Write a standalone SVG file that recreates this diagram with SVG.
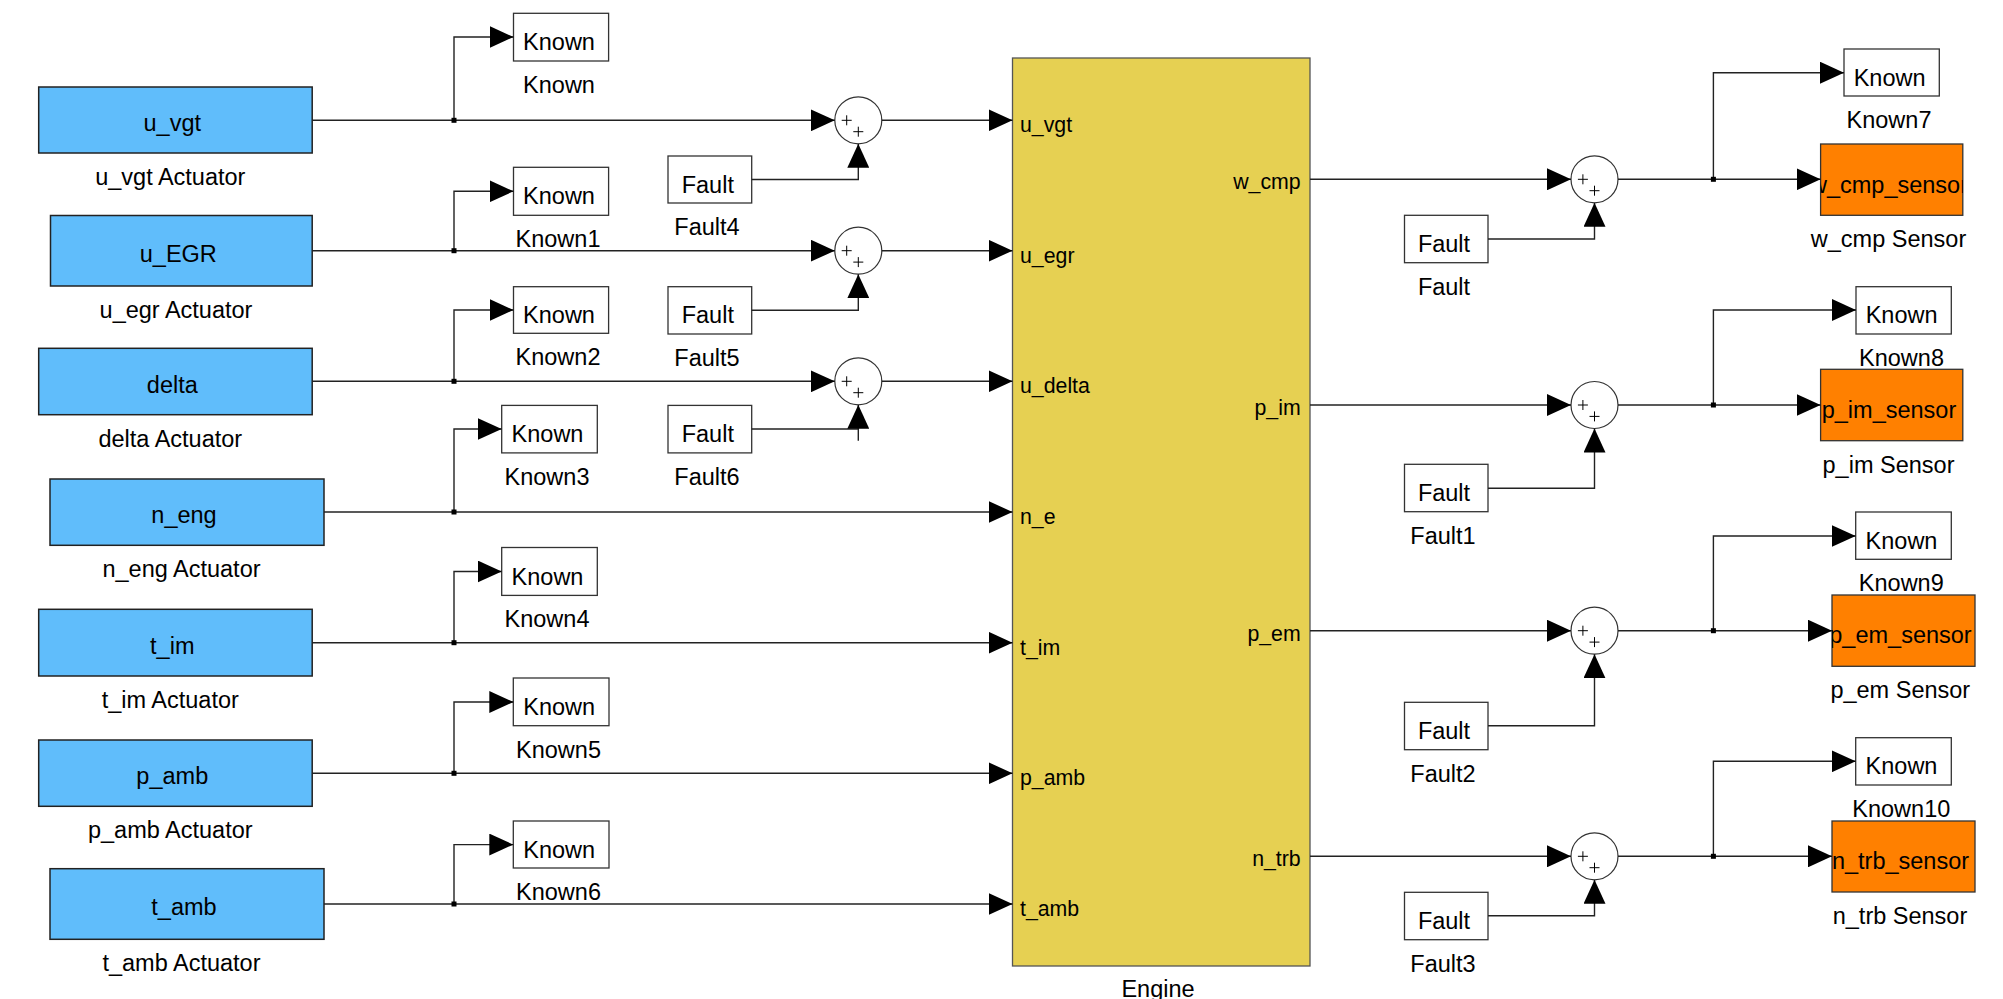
<svg xmlns="http://www.w3.org/2000/svg" width="2003" height="999" viewBox="0 0 2003 999">
<style>
text{font-family:"Liberation Sans",Arial,Helvetica,sans-serif;fill:#000}
.t{font-size:23.5px;text-anchor:middle}
.pl{font-size:21.3px;text-anchor:start}
.pr{font-size:21.3px;text-anchor:end}
.act{fill:#60BDFB;stroke:#222;stroke-width:1.5}
.blk{fill:#fff;stroke:#333;stroke-width:1.3}
.sen{fill:#FF8000;stroke:#333;stroke-width:1.3}
.eng{fill:#E6D052;stroke:#555;stroke-width:1.3}
.sum{fill:#fff;stroke:#333;stroke-width:1.2}
.pls{stroke:#000;stroke-width:1;fill:none}
.w{fill:none;stroke:#222;stroke-width:1.4}
.a{marker-end:url(#ah)}
.dot{fill:#000}
</style>
<defs>
<marker id="ah" markerUnits="userSpaceOnUse" markerWidth="24" markerHeight="22" refX="24" refY="11" orient="auto"><path d="M0,0 L24,11 L0,22 Z" fill="#000"/></marker>
<clipPath id="c0"><rect x="1820.6" y="144" width="142.2" height="71.3"/></clipPath>
<clipPath id="c1"><rect x="1820.6" y="369.3" width="142.2" height="71.4"/></clipPath>
<clipPath id="c2"><rect x="1832" y="595" width="143" height="71.3"/></clipPath>
<clipPath id="c3"><rect x="1832" y="821" width="143" height="71"/></clipPath>
</defs>

<!-- Actuators -->
<g id="act_u_vgt"><rect class="act" x="38.7" y="87" width="273.5" height="66"/><text class="t" x="172.3" y="131.3">u_vgt</text><text class="t" x="170.3" y="185.3">u_vgt Actuator</text></g>
<g id="act_u_egr"><rect class="act" x="50.5" y="215.5" width="261.7" height="70.5"/><text class="t" x="178.3" y="261.5">u_EGR</text><text class="t" x="176" y="318">u_egr Actuator</text></g>
<g id="act_delta"><rect class="act" x="38.7" y="348.3" width="273.5" height="66.4"/><text class="t" x="172.3" y="392.5">delta</text><text class="t" x="170.3" y="446.7">delta Actuator</text></g>
<g id="act_n_eng"><rect class="act" x="50" y="479" width="274" height="66.3"/><text class="t" x="184" y="523">n_eng</text><text class="t" x="181.5" y="577.3">n_eng Actuator</text></g>
<g id="act_t_im"><rect class="act" x="38.7" y="609.3" width="273.5" height="66.7"/><text class="t" x="172.3" y="653.7">t_im</text><text class="t" x="170.3" y="708">t_im Actuator</text></g>
<g id="act_p_amb"><rect class="act" x="38.7" y="740" width="273.5" height="66.3"/><text class="t" x="172.3" y="784.2">p_amb</text><text class="t" x="170.3" y="838.3">p_amb Actuator</text></g>
<g id="act_t_amb"><rect class="act" x="50" y="868.7" width="274" height="70.6"/><text class="t" x="184" y="915">t_amb</text><text class="t" x="181.5" y="971.3">t_amb Actuator</text></g>

<!-- Known (left) -->
<g id="known"><rect class="blk" x="513.5" y="13.3" width="95.1" height="47.7"/><text class="t" x="559" y="50">Known</text><text class="t" x="559" y="93">Known</text></g>
<g id="known1"><rect class="blk" x="513.5" y="167.3" width="95.1" height="48"/><text class="t" x="559" y="204.3">Known</text><text class="t" x="558" y="247.3">Known1</text></g>
<g id="known2"><rect class="blk" x="513.5" y="286.7" width="95.1" height="46.6"/><text class="t" x="559" y="323">Known</text><text class="t" x="558" y="365.3">Known2</text></g>
<g id="known3"><rect class="blk" x="501.7" y="405.4" width="95.6" height="47.5"/><text class="t" x="547.5" y="442">Known</text><text class="t" x="547" y="485">Known3</text></g>
<g id="known4"><rect class="blk" x="501.7" y="547.5" width="95.6" height="47.9"/><text class="t" x="547.5" y="584.5">Known</text><text class="t" x="547" y="627.4">Known4</text></g>
<g id="known5"><rect class="blk" x="513.3" y="678" width="95.7" height="47.7"/><text class="t" x="559.2" y="715">Known</text><text class="t" x="558.5" y="757.7">Known5</text></g>
<g id="known6"><rect class="blk" x="513.3" y="821" width="95.7" height="47"/><text class="t" x="559.2" y="857.5">Known</text><text class="t" x="558.5" y="900">Known6</text></g>

<!-- Faults (left) -->
<g id="fault4"><rect class="blk" x="668" y="156" width="83.7" height="47"/><text class="t" x="707.8" y="192.5">Fault</text><text class="t" x="707" y="235">Fault4</text></g>
<g id="fault5"><rect class="blk" x="668" y="286.7" width="83.7" height="47.3"/><text class="t" x="707.8" y="323.3">Fault</text><text class="t" x="707" y="366">Fault5</text></g>
<g id="fault6"><rect class="blk" x="668" y="405.4" width="83.7" height="47.5"/><text class="t" x="707.8" y="442.1">Fault</text><text class="t" x="707" y="485">Fault6</text></g>

<!-- Sums (left) -->
<g id="sum1"><circle class="sum" cx="858.3" cy="120.3" r="23.5"/><path class="pls" d="M841.7,120.3h10M846.7,115.3v10M853.3,131.7h10M858.3,126.7v10"/></g>
<g id="sum2"><circle class="sum" cx="858.3" cy="250.7" r="23.5"/><path class="pls" d="M841.7,250.7h10M846.7,245.7v10M853.3,262.1h10M858.3,257.1v10"/></g>
<g id="sum3"><circle class="sum" cx="858.3" cy="381.3" r="23.5"/><path class="pls" d="M841.7,381.3h10M846.7,376.3v10M853.3,392.7h10M858.3,387.7v10"/></g>

<!-- Engine -->
<g id="engine"><rect class="eng" x="1012.5" y="58" width="297.5" height="908"/>
<text class="pl" x="1020" y="132.3">u_vgt</text>
<text class="pl" x="1020" y="262.7">u_egr</text>
<text class="pl" x="1020" y="393.3">u_delta</text>
<text class="pl" x="1020" y="524">n_e</text>
<text class="pl" x="1020" y="654.7">t_im</text>
<text class="pl" x="1020" y="785.3">p_amb</text>
<text class="pl" x="1020" y="916">t_amb</text>
<text class="pr" x="1300.7" y="189.3">w_cmp</text>
<text class="pr" x="1300.7" y="415">p_im</text>
<text class="pr" x="1300.7" y="640.7">p_em</text>
<text class="pr" x="1300.7" y="866.3">n_trb</text>
<text class="t" x="1158" y="997">Engine</text></g>

<!-- Faults (right) -->
<g id="fault"><rect class="blk" x="1404.5" y="215.3" width="83.5" height="47.4"/><text class="t" x="1444" y="252">Fault</text><text class="t" x="1444" y="294.7">Fault</text></g>
<g id="fault1"><rect class="blk" x="1404.5" y="464.3" width="83.5" height="47.4"/><text class="t" x="1444" y="501">Fault</text><text class="t" x="1443" y="543.7">Fault1</text></g>
<g id="fault2"><rect class="blk" x="1404.5" y="702.3" width="83.5" height="47.4"/><text class="t" x="1444" y="739">Fault</text><text class="t" x="1443" y="781.7">Fault2</text></g>
<g id="fault3"><rect class="blk" x="1404.5" y="892.3" width="83.5" height="47.4"/><text class="t" x="1444" y="929">Fault</text><text class="t" x="1443" y="971.7">Fault3</text></g>

<!-- Sums (right) -->
<g id="sum4"><circle class="sum" cx="1594.5" cy="179.3" r="23.5"/><path class="pls" d="M1577.9,179.3h10M1582.9,174.3v10M1589.5,190.7h10M1594.5,185.7v10"/></g>
<g id="sum5"><circle class="sum" cx="1594.5" cy="405" r="23.5"/><path class="pls" d="M1577.9,405h10M1582.9,400v10M1589.5,416.4h10M1594.5,411.4v10"/></g>
<g id="sum6"><circle class="sum" cx="1594.5" cy="630.7" r="23.5"/><path class="pls" d="M1577.9,630.7h10M1582.9,625.7v10M1589.5,642.1h10M1594.5,637.1v10"/></g>
<g id="sum7"><circle class="sum" cx="1594.5" cy="856.3" r="23.5"/><path class="pls" d="M1577.9,856.3h10M1582.9,851.3v10M1589.5,867.7h10M1594.5,862.7v10"/></g>

<!-- Known (right) -->
<g id="known7"><rect class="blk" x="1844" y="49" width="95.3" height="47"/><text class="t" x="1889.6" y="85.5">Known</text><text class="t" x="1889" y="128">Known7</text></g>
<g id="known8"><rect class="blk" x="1856" y="286.7" width="95.3" height="47.3"/><text class="t" x="1901.6" y="323.3">Known</text><text class="t" x="1901.5" y="366">Known8</text></g>
<g id="known9"><rect class="blk" x="1855.7" y="512" width="95.6" height="47.3"/><text class="t" x="1901.5" y="548.6">Known</text><text class="t" x="1901.3" y="591.3">Known9</text></g>
<g id="known10"><rect class="blk" x="1855.7" y="737.7" width="95.6" height="47.3"/><text class="t" x="1901.5" y="774.3">Known</text><text class="t" x="1901.3" y="817">Known10</text></g>

<!-- Sensors -->
<g id="w_cmp_sensor"><rect class="sen" x="1820.6" y="144" width="142.2" height="71.3"/><text class="t" x="1889" y="192.5" clip-path="url(#c0)">w_cmp_sensor</text><text class="t" x="1888.5" y="247.3">w_cmp Sensor</text></g>
<g id="p_im_sensor"><rect class="sen" x="1820.6" y="369.3" width="142.2" height="71.4"/><text class="t" x="1889" y="417.5" clip-path="url(#c1)">p_im_sensor</text><text class="t" x="1888.5" y="472.7">p_im Sensor</text></g>
<g id="p_em_sensor"><rect class="sen" x="1832" y="595" width="143" height="71.3"/><text class="t" x="1900.5" y="643" clip-path="url(#c2)">p_em_sensor</text><text class="t" x="1900.3" y="698.3">p_em Sensor</text></g>
<g id="n_trb_sensor"><rect class="sen" x="1832" y="821" width="143" height="71"/><text class="t" x="1900.5" y="869" clip-path="url(#c3)">n_trb_sensor</text><text class="t" x="1900" y="924">n_trb Sensor</text></g>

<!-- Connectors -->
<g id="connectors">
<path class="w a" d="M312.2,120.3 H834.8"/>
<path class="w a" d="M454,120.3 V37 H513.5"/>
<path class="w a" d="M312.2,250.7 H834.8"/>
<path class="w a" d="M454,250.7 V191.3 H513.5"/>
<path class="w a" d="M312.2,381.3 H834.8"/>
<path class="w a" d="M454,381.3 V310 H513.5"/>
<path class="w a" d="M324,512 H1012.5"/>
<path class="w a" d="M454,512 V429 H501.7"/>
<path class="w a" d="M312.2,642.7 H1012.5"/>
<path class="w a" d="M454,642.7 V571.5 H501.7"/>
<path class="w a" d="M312.2,773.3 H1012.5"/>
<path class="w a" d="M454,773.3 V702 H513.3"/>
<path class="w a" d="M324,904 H1012.5"/>
<path class="w a" d="M454,904 V844.6 H513.3"/>
<path class="w a" d="M881.8,120.3 H1012.5"/>
<path class="w a" d="M881.8,250.7 H1012.5"/>
<path class="w a" d="M881.8,381.3 H1012.5"/>
<path class="w a" d="M751.7,179.5 H858.3 V143.8"/>
<path class="w a" d="M751.7,310.3 H858.3 V274.2"/>
<path class="w a" d="M751.7,429 H858.3 V404.8"/>
<path class="w" d="M858.3,429 V440.7"/>
<path class="w a" d="M1310,179.3 H1571"/>
<path class="w a" d="M1310,405 H1571"/>
<path class="w a" d="M1310,630.7 H1571"/>
<path class="w a" d="M1310,856.3 H1571"/>
<path class="w a" d="M1618,179.3 H1820.6"/>
<path class="w a" d="M1713.4,179.3 V72.7 H1844"/>
<path class="w a" d="M1618,405 H1820.6"/>
<path class="w a" d="M1713.4,405 V310 H1856"/>
<path class="w a" d="M1618,630.7 H1832"/>
<path class="w a" d="M1713.4,630.7 V536 H1855.7"/>
<path class="w a" d="M1618,856.3 H1832"/>
<path class="w a" d="M1713.4,856.3 V761.3 H1855.7"/>
<path class="w a" d="M1488,239 H1594.5 V202.8"/>
<path class="w a" d="M1488,488.3 H1594.5 V428.5"/>
<path class="w a" d="M1488,725.7 H1594.5 V654.2"/>
<path class="w a" d="M1488,915.7 H1594.5 V879.8"/>
<rect class="dot" x="451.5" y="117.8" width="5" height="5"/>
<rect class="dot" x="451.5" y="248.2" width="5" height="5"/>
<rect class="dot" x="451.5" y="378.8" width="5" height="5"/>
<rect class="dot" x="451.5" y="509.5" width="5" height="5"/>
<rect class="dot" x="451.5" y="640.2" width="5" height="5"/>
<rect class="dot" x="451.5" y="770.8" width="5" height="5"/>
<rect class="dot" x="451.5" y="901.5" width="5" height="5"/>
<rect class="dot" x="1710.9" y="176.8" width="5" height="5"/>
<rect class="dot" x="1710.9" y="402.5" width="5" height="5"/>
<rect class="dot" x="1710.9" y="628.2" width="5" height="5"/>
<rect class="dot" x="1710.9" y="853.8" width="5" height="5"/>
</g>
</svg>
